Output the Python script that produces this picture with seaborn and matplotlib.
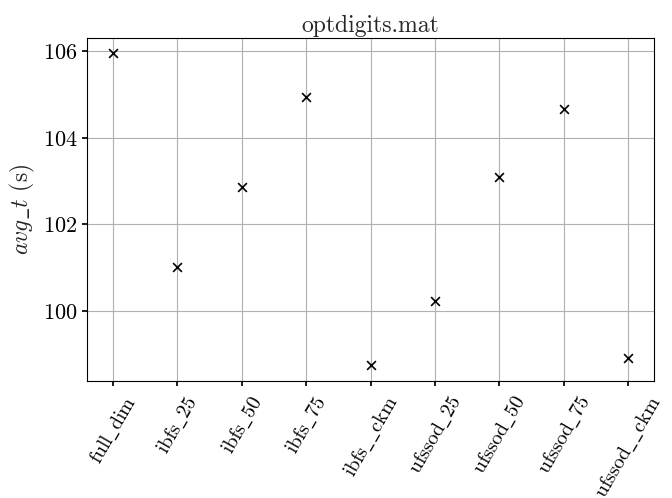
import matplotlib
matplotlib.use("Agg")
import matplotlib.pyplot as plt
import seaborn as sns
import pandas as pd

methods = ["full_dim", "ibfs_25", "ibfs_50", "ibfs_75", "ibfs__ckm",
           "ufssod_25", "ufssod_50", "ufssod_75", "ufssod__ckm"]
avg_t = [105.95, 101.02, 102.86, 104.95, 98.74, 100.23, 103.10, 104.66, 98.91]

sns.set_theme(style="ticks", rc={"axes.grid": True})
plt.rcParams.update({
    "font.family": "serif",
    "font.serif": ["cmr10", "DejaVu Serif"],
    "mathtext.fontset": "cm",
    "axes.unicode_minus": False,
    "axes.formatter.use_mathtext": True,
    "grid.color": "#b0b0b0",
    "grid.linewidth": 0.8,
    "axes.edgecolor": "black",
    "axes.linewidth": 0.8,
    "xtick.color": "black",
    "ytick.color": "black",
    "xtick.major.size": 3.5,
    "ytick.major.size": 3.5,
})

df = pd.DataFrame({"method": methods, "avg_t": avg_t})

fig, ax = plt.subplots(figsize=(6.72, 4.98), dpi=100)
sns.scatterplot(data=df, x="method", y="avg_t", marker="x", color="black",
                s=40, linewidth=1.2, ax=ax)
ax.set_xlim(-0.4, len(methods) - 1 + 0.4)
ax.set_xticks(range(len(methods)))
ax.set_xticklabels([r"$\mathrm{" + m.replace("_", r"\_") + "}$" for m in methods],
                   rotation=60, ha="center", fontsize=14.5)
ax.tick_params(axis="x", pad=5)
ax.set_yticks([100, 102, 104, 106])
ax.tick_params(axis="y", labelsize=16)
ax.set_xlabel("")
ax.set_ylabel(r"$avg\_t$ (s)", fontsize=17)
ax.set_title("optdigits.mat", fontsize=17, pad=4)
for s in ax.spines.values():
    s.set_visible(True)
    s.set_color("black")
fig.subplots_adjust(left=0.13, right=0.973, top=0.924, bottom=0.235)
fig.savefig("out.png", dpi=100)
